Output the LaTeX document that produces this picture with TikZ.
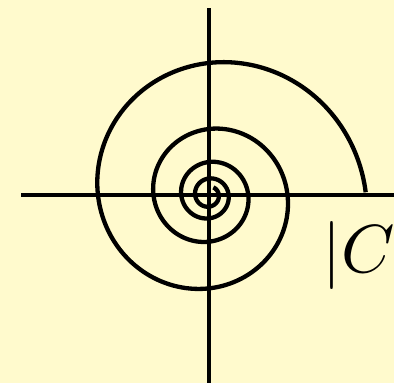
\documentclass[tikz,border=0pt]{standalone}
\begin{document}
\begin{tikzpicture}[x=1pt,y=1pt,
  axisline/.style={draw=black,line width=4.3pt},
  spiralline/.style={draw=black,line width=4.3pt,line join=round}]
\fill[fill={rgb,255:red,255;green,250;blue,205}] (0,0) rectangle (394,383);
\useasboundingbox (0,0) rectangle (394,383);
\coordinate (O) at (209,188);
\coordinate (xl) at (21,188);
\coordinate (xr) at (394,188);
\coordinate (yt) at (209,375);
\coordinate (yb) at (209,0);
\draw[axisline] (xl) -- (xr);
\draw[axisline] (yb) -- (yt);
\draw[spiralline,shift={(O)}] plot[domain=1:1500,samples=600,smooth]
  ({157*pow(2,-\x/360)*cos(\x)},{157*pow(2,-\x/360)*sin(\x)});
\node[inner sep=0pt,scale=6.8] (lab) at (359,127) {$|C$};
\end{tikzpicture}
\end{document}
